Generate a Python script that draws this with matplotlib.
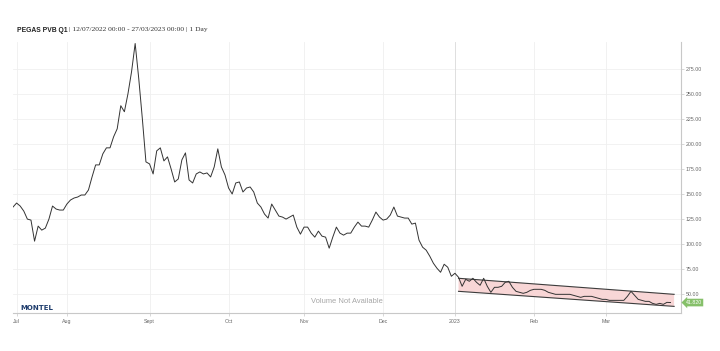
import numpy as np
import matplotlib
matplotlib.use("Agg")
import matplotlib.pyplot as plt
import matplotlib.transforms as mtransforms
from matplotlib.patches import Polygon

plt.rcParams['font.family'] = ['Liberation Sans', 'DejaVu Sans']

# ---------------- data ----------------
title_main = "PEGAS PVB Q1"
title_sub = "| 12/07/2022 00:00 - 27/03/2023 00:00 | 1 Day"

start_date = "2022-07-11"
holidays = ["2022-12-26", "2022-12-27"]

# daily settlement prices (one per trading day, starting 2022-07-11)
prices = [
    137, 141, 138, 133, 125, 124, 103, 118, 114, 116,
    125, 138, 135, 134, 134, 140, 144, 146, 147, 149,
    149, 154, 167, 179, 179, 190, 196, 196, 207, 215,
    238, 232, 250, 272, 300, 265, 225, 182, 180, 170,
    193, 196, 183, 187, 175, 162, 165,
    184, 191, 164, 161, 170, 172, 170, 171, 167, 177,
    195, 177, 169, 156, 150, 161, 162, 152, 156, 157,
    152, 141, 137, 130, 126, 140, 134, 128, 127, 125,
    127, 129, 117, 110, 117, 117, 111, 107, 113, 108,
    107, 96, 107, 117, 111, 109,
    111, 111, 117, 122, 118, 118, 117, 124, 132, 127,
    124, 125, 129, 137, 128, 127, 126, 126, 120, 121,
    104, 97, 94, 88, 81, 76, 72, 80, 77, 68, 71,
    67, 58, 65, 63, 66, 62, 59, 66, 58, 52,
    57, 57, 58, 62, 63, 57, 53, 52, 51, 52,
    54, 55, 55, 55, 54, 52, 51, 50, 50, 50,
    50, 50, 49, 48, 47, 48, 48, 48, 47, 46,
    45, 45, 44, 44, 44, 44, 44, 48, 53, 49,
    45, 44, 43, 43, 41, 40, 41, 40, 42, 41.82,
]
last_value_label = "41.820"

month_labels = ["Jul", "Aug", "Sept", "Oct", "Nov", "Dec", "2023", "Feb", "Mar"]
month_dates = ["2022-07-12", "2022-08-01", "2022-09-01", "2022-10-01", "2022-11-01",
               "2022-12-01", "2023-01-01", "2023-02-01", "2023-03-01"]

y_ticks = [50, 75, 100, 125, 150, 175, 200, 225, 250, 275]
y_range = [31.1, 301.5]

channel_dates = ["2023-01-03", "2023-03-28"]
channel_upper = [66, 50]
channel_lower = [53, 38]

volume_text = "Volume Not Available"
logo_text = "MONTEL"


def pos(d):
    return float(np.busday_count(start_date, d, holidays=holidays))


# ---------------- figure ----------------
fig = plt.figure(figsize=(7.2, 3.51), dpi=100)
ax = fig.add_axes([13 / 720, 37.7 / 351, 668 / 720, 271.3 / 351])

x = np.arange(len(prices))
x_end = (681 - 13) / 3.593
ax.set_xlim(0, x_end)
ax.set_ylim(*y_range)

# gridlines
for yt in y_ticks:
    ax.axhline(yt, color="#f0f0f0", lw=0.6, zorder=0)
tick_pos = [pos(d) for d in month_dates]
for lbl, tp in zip(month_labels, tick_pos):
    ax.axvline(tp, color="#d9d9d9" if lbl == "2023" else "#efefef", lw=0.6, zorder=0)

# channel
cx = [pos(d) for d in channel_dates]
poly = Polygon([[cx[0], channel_upper[0]], [cx[1], channel_upper[1]],
                [cx[1], channel_lower[1]], [cx[0], channel_lower[0]]],
               closed=True, facecolor="#f8d6d6", edgecolor="none", zorder=1)
ax.add_patch(poly)
ax.plot(cx, channel_upper, color="#3c3c3c", lw=0.8, zorder=2)
ax.plot(cx, channel_lower, color="#3c3c3c", lw=0.8, zorder=2)

# price line
ax.plot(x, prices, color="#333333", lw=0.7, zorder=3, clip_on=True)

# spines
for s in ["left", "top"]:
    ax.spines[s].set_visible(False)
ax.spines["bottom"].set_color("#c8c8c8")
ax.spines["bottom"].set_linewidth(0.8)
ax.spines["right"].set_color("#c8c8c8")
ax.spines["right"].set_linewidth(0.8)

ax.yaxis.tick_right()
ax.set_yticks(y_ticks)
ax.set_yticklabels([f"{v:.2f}" for v in y_ticks])
ax.tick_params(axis="y", length=2, width=0.5, color="#c8c8c8", labelsize=3.8,
               labelcolor="#666666", pad=1.5)
ax.set_xticks(tick_pos)
ax.set_xticklabels(month_labels)
ax.tick_params(axis="x", length=2, width=0.5, color="#c8c8c8", labelsize=3.8,
               labelcolor="#666666", pad=2)

# last value marker
trans = mtransforms.blended_transform_factory(ax.transAxes, ax.transData)
ax.text(1.007, prices[-1], last_value_label, transform=trans, ha="left", va="center",
        fontsize=3.8, color="white", clip_on=False,
        bbox=dict(boxstyle="larrow,pad=0.25", fc="#86c06a", ec="none"))

# texts
ax.text(0.5, 0.045, volume_text, transform=ax.transAxes, ha="center", va="center",
        fontsize=5.4, color="#a6a6a6")
fig.text(20.5 / 720, 1 - 307.7 / 351, logo_text, fontsize=5, fontweight="bold",
         color="#1f3d6d", family="DejaVu Sans", ha="left", va="center")

t1 = fig.text(17 / 720, 1 - 30 / 351, title_main, fontsize=4.9, fontweight="bold",
              color="#222222", ha="left", va="center")
ax.annotate(title_sub, xy=(1, 0.5), xycoords=t1, xytext=(1.2, 0), textcoords="offset points",
            ha="left", va="center", fontsize=5.4, color="#333333",
            family=["Liberation Serif", "DejaVu Serif"], annotation_clip=False)

fig.savefig("out.png", dpi=100)
